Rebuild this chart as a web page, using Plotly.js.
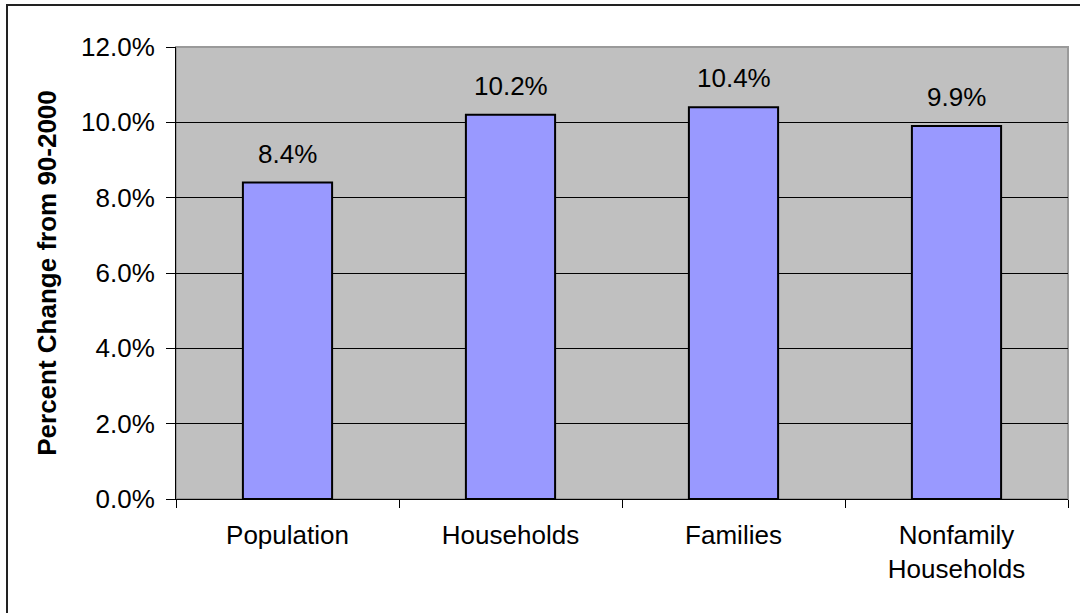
<!DOCTYPE html>
<html>
<head>
<meta charset="utf-8">
<script src="https://cdn.plot.ly/plotly-3.0.1.min.js"></script>
<style>
  html, body { margin: 0; padding: 0; background: #fff; }
  #wrap { position: relative; width: 1080px; height: 613px; overflow: hidden; }
  #chart { position: absolute; left: 0; top: 0; width: 1080px; height: 613px; }
  #frame { position: absolute; left: 6px; top: 4px; width: 1100px; height: 700px;
           border-left: 2px solid #222; border-top: 2px solid #222; pointer-events: none; }
</style>
</head>
<body>
<div id="wrap">
  <div id="chart"></div>
  <div id="frame"></div>
</div>
<script>
const categories = ["Population", "Households", "Families", "Nonfamily Households"];
const tickLabels = ["Population", "Households", "Families", "Nonfamily<br>Households"];
const values = [0.084, 0.102, 0.104, 0.099];
const valueLabels = ["8.4%", "10.2%", "10.4%", "9.9%"];
const yTicks = [0, 0.02, 0.04, 0.06, 0.08, 0.10, 0.12];

const FONT = "Liberation Sans, Arial, sans-serif";
const FS = 26;

const trace = {
  type: "bar",
  x: categories,
  y: values,
  width: 0.4,
  marker: { color: "#9999FF", line: { color: "#000", width: 2 } },
  hoverinfo: "skip"
};

const annotations = categories.map((c, i) => ({
  x: c, y: values[i], xref: "x", yref: "y",
  text: valueLabels[i], showarrow: false,
  yanchor: "bottom", yshift: 12,
  font: { family: FONT, size: FS, color: "#000" }
}));

const layout = {
  width: 1080, height: 613,
  margin: { l: 176, r: 12, t: 47, b: 114, pad: 0 },
  paper_bgcolor: "#fff",
  plot_bgcolor: "#C0C0C0",
  showlegend: false,
  font: { family: FONT, size: FS, color: "#000" },
  xaxis: {
    type: "category",
    tickvals: categories,
    ticktext: tickLabels,
    tickson: "boundaries",
    ticks: "outside", ticklen: 8, tickcolor: "#000", tickwidth: 1,
    showline: true, linecolor: "#000", linewidth: 1,
    showgrid: false,
    ticklabelstandoff: 13,
    tickfont: { family: FONT, size: FS, color: "#000" }
  },
  yaxis: {
    range: [0, 0.12],
    tickvals: yTicks,
    tickformat: ".1%",
    ticks: "outside", ticklen: 9, tickcolor: "#000", tickwidth: 1,
    showline: true, linecolor: "#000", linewidth: 1,
    showgrid: true, gridcolor: "#000", gridwidth: 1,
    zeroline: false,
    ticklabelstandoff: 6,
    tickfont: { family: FONT, size: FS, color: "#000" },
    title: { text: "<b>Percent Change from 90-2000</b>", standoff: 16,
             font: { family: FONT, size: FS, color: "#000" } }
  },
  shapes: [{
    type: "rect", xref: "paper", yref: "paper", x0: 0, x1: 1, y0: 0, y1: 1,
    line: { color: "#9a9a9a", width: 2 }, layer: "below"
  }],
  annotations: annotations
};

Plotly.newPlot("chart", [trace], layout, { staticPlot: true, displayModeBar: false });
</script>
</body>
</html>
